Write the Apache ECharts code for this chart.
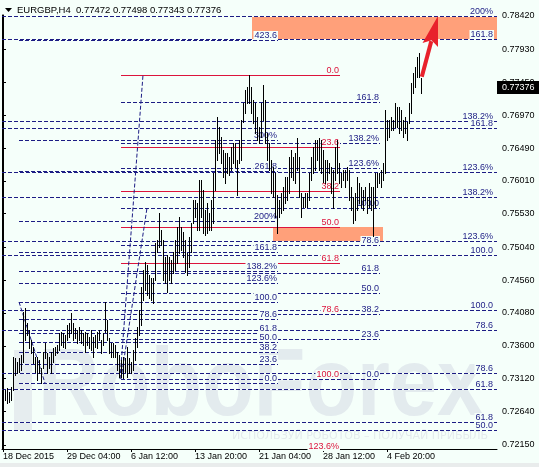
<!DOCTYPE html>
<html><head><meta charset="utf-8">
<script src="https://cdn.jsdelivr.net/npm/echarts@6/dist/echarts.min.js"></script>
<style>html,body{margin:0;padding:0;background:#f5fffa;}#c{width:539px;height:467px;}</style>
</head><body><div id="c"></div>
<script>
// ---------- data ----------
const symbolTitle = 'EURGBP,H4  0.77472 0.77498 0.77343 0.77376';
const highs = [0.72969,0.72954,0.72983,0.72925,0.72998,0.73436,0.73421,0.73363,0.73421,0.73465,
0.74094,0.74152,0.73933,0.73831,0.73685,0.73582,0.73436,0.73436,0.73392,0.73275,
0.73509,0.73641,0.73494,0.73436,0.73509,0.73567,0.73582,0.73611,0.73787,0.73802,
0.73787,0.73758,0.73904,0.73933,0.74079,0.73933,0.73860,0.73831,0.73875,0.73831,
0.73787,0.73802,0.73787,0.73729,0.73831,0.73729,0.73758,0.73802,0.73831,0.73685,
0.73787,0.74240,0.73977,0.73714,0.73641,0.73641,0.73611,0.73509,0.73465,0.73392,
0.73436,0.73421,0.73582,0.73421,0.73363,0.73538,0.73714,0.73875,0.74123,0.74459,
0.74708,0.74825,0.74781,0.74635,0.74591,0.74591,0.75102,0.75146,0.75541,0.75292,
0.75146,0.74898,0.74927,0.74898,0.74854,0.74971,0.75146,0.75336,0.75482,0.75336,
0.75263,0.75146,0.74956,0.75190,0.75395,0.75731,0.75731,0.75687,0.76023,0.76023,
0.75877,0.75585,0.75687,0.75541,0.75731,0.76125,0.76608,0.76944,0.76798,0.76652,
0.76462,0.76418,0.76418,0.76360,0.76506,0.76564,0.76564,0.76315,0.76608,0.76900,
0.77148,0.77339,0.77383,0.77558,0.77383,0.77192,0.77148,0.76944,0.76798,0.77148,
0.77412,0.77192,0.76710,0.76564,0.76315,0.76213,0.76125,0.75804,0.75731,0.75833,
0.75921,0.76067,0.76067,0.76360,0.76462,0.76360,0.76418,0.76637,0.76360,0.75833,
0.75775,0.75833,0.75833,0.76125,0.76360,0.76506,0.76608,0.76608,0.76637,0.76608,
0.76462,0.76315,0.76315,0.76272,0.76213,0.76169,0.76506,0.76608,0.76272,0.76125,
0.76169,0.76169,0.76213,0.76169,0.75921,0.75775,0.75833,0.76067,0.75979,0.75921,
0.75877,0.75921,0.75775,0.75979,0.75921,0.75921,0.76125,0.76125,0.76125,0.76169,
0.76272,0.77046,0.76900,0.76900,0.76944,0.76900,0.77148,0.77090,0.77090,0.77046,
0.76900,0.76944,0.76871,0.77148,0.77441,0.77587,0.77675,0.77821,0.77879,0.77514];
const lows = [0.72706,0.72808,0.72764,0.72779,0.72808,0.72954,0.73173,0.73202,0.73217,0.73246,
0.73363,0.73685,0.73758,0.73567,0.73494,0.73348,0.73217,0.73100,0.73202,0.73056,
0.73275,0.73421,0.73202,0.73275,0.73202,0.73363,0.73465,0.73494,0.73538,0.73611,
0.73582,0.73567,0.73685,0.73729,0.73787,0.73685,0.73714,0.73641,0.73685,0.73641,
0.73611,0.73509,0.73611,0.73567,0.73538,0.73436,0.73582,0.73567,0.73685,0.73494,
0.73611,0.73802,0.73685,0.73494,0.73436,0.73436,0.73436,0.73246,0.73144,0.73144,
0.73129,0.73217,0.73144,0.73202,0.73202,0.73246,0.73392,0.73582,0.73758,0.73904,
0.74269,0.74415,0.74342,0.74298,0.74269,0.74225,0.74562,0.74971,0.75044,0.75073,
0.74562,0.74518,0.74386,0.74562,0.74518,0.74664,0.74708,0.74810,0.74956,0.75000,
0.74898,0.74679,0.74635,0.74752,0.74971,0.75395,0.75482,0.75292,0.75292,0.75482,
0.75248,0.75219,0.75248,0.75292,0.75292,0.75395,0.75877,0.76315,0.76418,0.76272,
0.76067,0.75979,0.76125,0.76096,0.76169,0.76272,0.76213,0.75804,0.76272,0.76315,
0.76871,0.77002,0.77148,0.77148,0.77002,0.76856,0.76710,0.76608,0.76564,0.76652,
0.76900,0.76564,0.76315,0.76169,0.75833,0.75775,0.75482,0.75248,0.75482,0.75541,
0.75585,0.75687,0.75731,0.75833,0.76067,0.76023,0.75979,0.76169,0.75775,0.75482,
0.75629,0.75629,0.75629,0.75731,0.76023,0.76125,0.76169,0.76315,0.76169,0.76125,
0.75994,0.75979,0.76023,0.76125,0.75833,0.75614,0.76023,0.76125,0.75979,0.75921,
0.76023,0.75921,0.76023,0.75731,0.75585,0.75395,0.75439,0.75585,0.75687,0.75629,
0.75585,0.75731,0.75541,0.75629,0.75585,0.75205,0.75629,0.75921,0.75979,0.75921,
0.76023,0.76125,0.76608,0.76652,0.76754,0.76754,0.76798,0.76798,0.76710,0.76754,
0.76652,0.76710,0.76608,0.76856,0.77002,0.77295,0.77383,0.77529,0.77529,0.77295];
const timeTickIndex = [0,32,64,96,128,160,192];
const timeTickLabels = ['18 Dec 2015','29 Dec 04:00','6 Jan 12:00','13 Jan 20:00','21 Jan 04:00','28 Jan 12:00','4 Feb 20:00'];
const priceTicks = [0.72150,0.72640,0.73120,0.73600,0.74080,0.74560,0.75040,0.75530,0.76010,0.76490,0.76970,0.77450,0.77930,0.78420];
const lastPrice = 0.77376;

// Fibonacci objects (level prices + level texts)
const fibA1Prices = [0.72481,0.73203,0.74123,0.75137,0.75775,0.76790,0.78420];
const fibA1Labels = ['61.8','78.6','100.0','123.6%','138.2%','161.8','200%'];
const fibA2Prices = [0.72369,0.72971,0.73834,0.74927,0.76136,0.76882,0.78084];
const fibA2Labels = ['50.0','61.8','78.6','100.0','123.6%','138.2%','161.8'];
const fibBPrices = [0.73056,0.73335,0.73508,0.73648,0.73788,0.73987,0.74240,0.74519,0.74692,0.74972,0.75424,0.76156,0.76608,0.78071];
const fibBLabels = ['0.0','23.6','38.2','50.0','61.8','78.6','100.0','123.6%','138.2%','161.8','200%','261.8','300%','423.6'];
const fibCPrices = [0.73115,0.73705,0.74070,0.74365,0.74659,0.75079,0.75614,0.76204,0.76568,0.77158];
const fibCLabels = ['0.0','23.6','38.2','50.0','61.8','78.6','100.0','123.6%','138.2%','161.8'];
const fibDPrices = [0.77558,0.76509,0.75861,0.75337,0.74812,0.74066,0.73115,0.72066];
const fibDLabels = ['0.0','23.6','38.2','50.0','61.8','78.6','100.0','123.6%'];
const zoneTop = [0.78420,0.75337];
const zoneBottom = [0.78084,0.75120];
const trendB = [8,0.74240,21,0.73056];
const trendC = [59,0.73115,72,0.75614];
const trendD = [58.5,0.73115,70,0.77558];
const arrowPts = [209.4,0.77533,217.5,0.78420];

// ---------- layout / style ----------
const BG = '#f5fffa', NAVY = '#1c1c84', RED = '#dc143c', SALMON = '#ffa07a';
const FONT = '9px "Liberation Sans", Arial, sans-serif';
const X_MIN = -0.5, X_MAX = 247;
const spanA = [X_MIN, X_MAX], spanB = [8, 137.5], spanC = [59, 188.5], spanD = [59, 168.5];
const zoneSpans = [[124.5, X_MAX],[135, 190]];

const chart = echarts.init(document.getElementById('c'), null, {renderer:'canvas'});

function levelLines(prices, span, color, dashed, z){
  return {type:'custom', coordinateSystem:'cartesian2d', z:z, silent:true, clip:true,
    data: prices.map((p)=>[span[0], span[1], p]),
    renderItem:(params, api)=>{
      const a = api.coord([api.value(0), api.value(2)]);
      const b = api.coord([api.value(1), api.value(2)]);
      const y = Math.round(a[1]) + 0.5;
      const ch = [];
      if (dashed) {
        ch.push({type:'line', shape:{x1:a[0],y1:y,x2:b[0],y2:y}, style:{stroke:BG,lineWidth:1}});
        ch.push({type:'line', shape:{x1:a[0],y1:y,x2:b[0],y2:y}, style:{stroke:color,lineWidth:1,lineDash:[4,2]}});
      } else {
        ch.push({type:'line', shape:{x1:a[0],y1:y,x2:b[0],y2:y}, style:{stroke:color,lineWidth:1}});
      }
      return {type:'group', children:ch};
    }};
}
function levelLabels(prices, labels, span, color, dx, z){
  return {type:'custom', coordinateSystem:'cartesian2d', z:z, silent:true, clip:false,
    data: prices.map((p,k)=>[span[1], p, k]),
    renderItem:(params, api)=>{
      const b = api.coord([api.value(0), api.value(1)]);
      const y = Math.round(b[1]);
      if (y > params.coordSys.y + params.coordSys.height + 12) return null;
      return {type:'text', x: Math.round(b[0]) + dx, y: y,
        style:{text: labels[api.value(2)], fill: color, font: FONT, align:'right', verticalAlign:'bottom',
          backgroundColor: BG, padding:[0,1,0,1]}};
    }};
}
function trendLine(pts, z){
  return {type:'custom', coordinateSystem:'cartesian2d', z:z, silent:true, clip:true,
    data:[pts],
    renderItem:(params, api)=>{
      const a = api.coord([api.value(0), api.value(1)]);
      const b = api.coord([api.value(2), api.value(3)]);
      return {type:'line', shape:{x1:a[0],y1:a[1],x2:b[0],y2:b[1]}, style:{stroke:NAVY,lineWidth:1,lineDash:[4,2]}};
    }};
}

const series = [];
series.push({type:'custom', coordinateSystem:'cartesian2d', z:1, silent:true, clip:true,
  data: zoneTop.map((t,k)=>[zoneSpans[k][0], zoneSpans[k][1], t, zoneBottom[k]]),
  renderItem:(params, api)=>{
    const a = api.coord([api.value(0), api.value(2)]);
    const b = api.coord([api.value(1), api.value(3)]);
    return {type:'rect', shape:{x:Math.round(a[0]), y:Math.round(a[1]), width:Math.round(b[0]-a[0]), height:Math.round(b[1]-a[1])}, style:{fill:SALMON}};
  }});
series.push(levelLines(fibDPrices, spanD, RED, false, 2));
series.push(levelLines(fibBPrices, spanB, NAVY, true, 3));
series.push(levelLines(fibCPrices, spanC, NAVY, true, 3));
series.push(levelLines(fibA2Prices, spanA, NAVY, true, 3));
series.push(levelLines(fibA1Prices, spanA, NAVY, true, 3));
series.push(trendLine(trendB, 3));
series.push(trendLine(trendC, 3));
series.push(trendLine(trendD, 3));
series.push(levelLabels(fibBPrices, fibBLabels, spanB, NAVY, 0, 5));
series.push(levelLabels(fibCPrices, fibCLabels, spanC, NAVY, 0, 5));
series.push(levelLabels(fibDPrices, fibDLabels, spanD, RED, 0, 5));
series.push(levelLabels(fibA2Prices, fibA2Labels, spanA, NAVY, -3, 5));
series.push(levelLabels(fibA1Prices, fibA1Labels, spanA, NAVY, -3, 5));
series.push({type:'custom', coordinateSystem:'cartesian2d', z:8, silent:true, clip:true,
  data: highs.map((h,i)=>[i, h, lows[i]]),
  encode:{x:0, y:[1,2]},
  renderItem:(params, api)=>{
    const h = api.coord([api.value(0), api.value(1)]);
    const l = api.coord([api.value(0), api.value(2)]);
    const x = Math.round(h[0]);
    return {type:'rect', shape:{x:x, y:Math.round(h[1]), width:1, height:Math.max(1, Math.round(l[1]) - Math.round(h[1]) + 1)}, style:{fill:'#000'}};
  }});
series.push({type:'custom', coordinateSystem:'cartesian2d', z:9, silent:true, clip:false,
  data:[arrowPts],
  renderItem:(params, api)=>{
    const a = api.coord([api.value(0), api.value(1)]);
    const b = api.coord([api.value(2), api.value(3)]);
    const dx = b[0]-a[0], dy = b[1]-a[1], L = Math.sqrt(dx*dx+dy*dy);
    const ux = dx/L, uy = dy/L, px = -uy, py = ux;
    const headLen = 30, headW = 8;
    const bx = b[0]-ux*headLen, by = b[1]-uy*headLen;
    return {type:'group', children:[
      {type:'line', shape:{x1:a[0],y1:a[1],x2:bx+ux*4,y2:by+uy*4}, style:{stroke:'#e8212b', lineWidth:4}},
      {type:'polygon', shape:{points:[[b[0],b[1]],[bx+px*headW,by+py*headW],[bx+ux*5,by+uy*5],[bx-px*headW,by-py*headW]]}, style:{fill:'#e8212b'}}
    ]};
  }});
series.push({type:'custom', coordinateSystem:'cartesian2d', z:10, silent:true, clip:false,
  data:[[X_MAX, lastPrice]],
  renderItem:(params, api)=>{
    const c = api.coord([api.value(0), api.value(1)]);
    const y = Math.round(c[1]);
    const x0 = params.coordSys.x + params.coordSys.width;
    return {type:'group', children:[
      {type:'rect', shape:{x:x0, y:y-6, width:42, height:13}, style:{fill:'#000'}},
      {type:'text', x:x0+5, y:y+1, style:{text: lastPrice.toFixed(5), fill:'#fff', font:FONT, align:'left', verticalAlign:'middle'}}
    ]};
  }});

chart.setOption({
  animation:false,
  backgroundColor: BG,
  grid:{left:2, right:42, top:15, bottom:18, containLabel:false},
  xAxis:{type:'value', min:X_MIN, max:X_MAX,
    axisLine:{show:true, onZero:false, lineStyle:{color:'#000', width:1}},
    axisTick:{show:true, length:3, customValues:timeTickIndex, lineStyle:{color:'#000'}},
    axisLabel:{show:true, customValues:timeTickIndex, align:'left', margin:3, color:'#000',
      fontFamily:'Liberation Sans', fontSize:9,
      formatter:(v)=>{const k = timeTickIndex.indexOf(Math.round(v)); return k>=0 ? timeTickLabels[k] : '';}},
    splitLine:{show:false}},
  yAxis:[{type:'value', position:'right', min:0.720914, max:0.784346, scale:true,
    axisLine:{show:true, lineStyle:{color:'#000', width:1}},
    axisTick:{show:true, inside:false, length:3, customValues:priceTicks, lineStyle:{color:'#000'}},
    axisLabel:{show:true, customValues:priceTicks, margin:5, color:'#000', fontFamily:'Liberation Sans', fontSize:9,
      formatter:(v)=>v.toFixed(5)},
    splitLine:{show:false}},
    {type:'value', position:'left', min:0.720914, max:0.784346,
    axisLine:{show:true, lineStyle:{color:'#000', width:1}}, axisTick:{show:false}, axisLabel:{show:false}, splitLine:{show:false}}],
  graphic:[
    {type:'rect', z:0, silent:true, shape:{x:14, y:350, width:18, height:80}, style:{fill:'#e6edef'}},
    {type:'text', z:0, x:38, y:341, scaleX:0.88, silent:true,
      style:{text:'RoboForex', font:'bold 96px "Liberation Sans", Arial', fill:'#e3ebee'}},
    {type:'text', z:0, x:232, y:431, silent:true,
      style:{text:'ИСПОЛЬЗУЙ РОБОТОВ – ПОЛУЧАЙ ПРИБЫЛЬ', font:'11px "DejaVu Sans"', fill:'#e4ebed'}},
    {type:'rect', z:50, silent:true, shape:{x:0, y:463, width:539, height:4}, style:{fill:'#e9ecec'}},
    {type:'polygon', z:50, shape:{points:[[5,8],[12,8],[8.5,12]]}, style:{fill:'#000'}},
    {type:'text', z:50, x:17, y:10, style:{text:symbolTitle, font:'9.5px "Liberation Sans", Arial', fill:'#000', verticalAlign:'middle'}}
  ],
  series: series
});
</script></body></html>
